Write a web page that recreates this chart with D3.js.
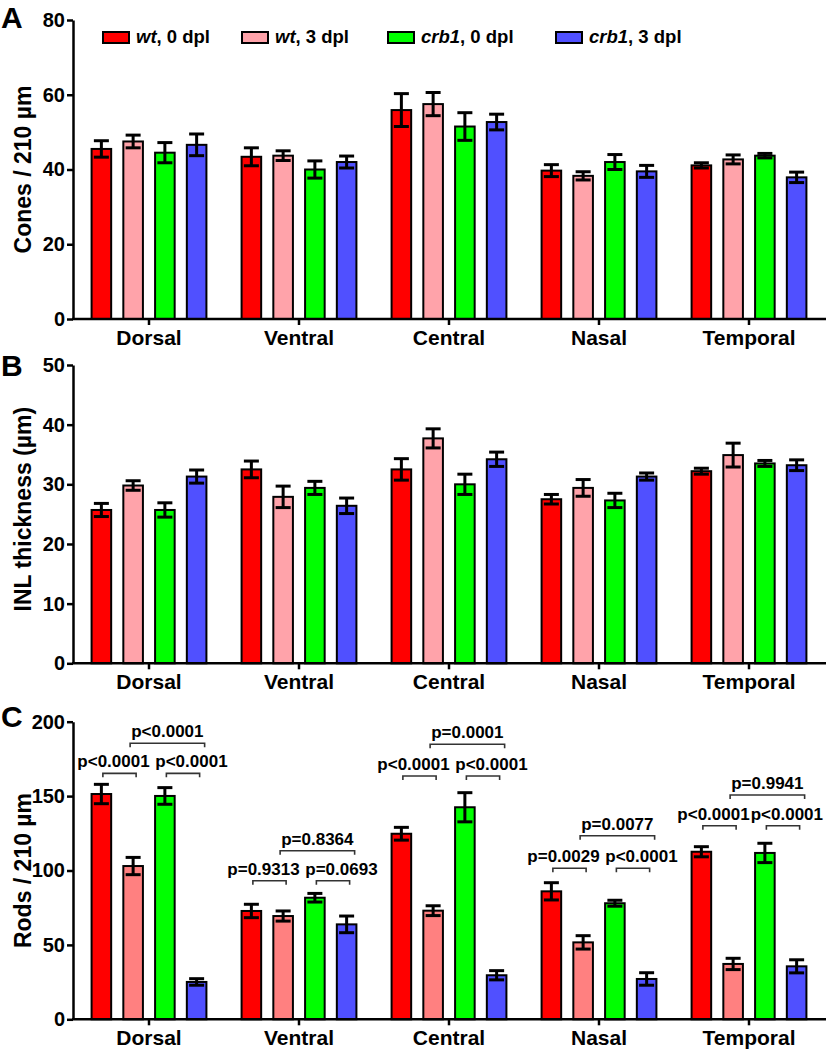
<!DOCTYPE html>
<html><head><meta charset="utf-8">
<script src="https://cdn.jsdelivr.net/npm/d3@7/dist/d3.min.js"></script>
<style>
body{margin:0;background:#fff;}
text{font-family:"Liberation Sans",Arial,Helvetica,sans-serif;font-weight:bold;}
</style></head><body>
<svg id="chart" width="828" height="1054"></svg>
<script>
// ---------- data ----------
const categories = ["Dorsal","Ventral","Central","Nasal","Temporal"];
const seriesGenotype = ["wt","wt","crb1","crb1"];
const seriesTime = [", 0 dpl", ", 3 dpl", ", 0 dpl", ", 3 dpl"];

const conesMean = [
  [45.5, 43.4, 55.9, 39.7, 41.1],
  [47.5, 43.7, 57.5, 38.3, 42.7],
  [44.5, 40.0, 51.5, 42.0, 43.7],
  [46.6, 42.0, 52.7, 39.5, 37.9]
];
const conesErr = [
  [2.2, 2.4, 4.4, 1.6, 0.7],
  [1.7, 1.3, 3.1, 1.1, 1.2],
  [2.7, 2.3, 3.7, 2.0, 0.6],
  [2.9, 1.6, 2.1, 1.6, 1.4]
];
const inlMean = [
  [25.7, 32.5, 32.5, 27.5, 32.2],
  [29.8, 27.9, 37.7, 29.4, 34.9],
  [25.7, 29.4, 30.0, 27.3, 33.5],
  [31.3, 26.4, 34.2, 31.3, 33.2]
];
const inlErr = [
  [1.1, 1.4, 1.8, 0.8, 0.5],
  [0.8, 1.8, 1.6, 1.4, 2.0],
  [1.2, 1.1, 1.7, 1.2, 0.5],
  [1.1, 1.3, 1.2, 0.6, 0.9]
];
const rodsMean = [
  [151.4, 72.8, 124.7, 86.0, 112.6],
  [103.0, 69.4, 73.0, 51.7, 37.2],
  [150.1, 81.7, 142.5, 78.0, 111.8],
  [25.1, 63.8, 29.6, 27.1, 35.6]
];
const rodsErr = [
  [6.5, 4.5, 4.3, 5.8, 3.4],
  [5.8, 3.4, 3.3, 4.5, 3.8],
  [5.6, 2.9, 9.8, 2.0, 6.5],
  [2.2, 5.6, 3.1, 4.2, 4.4]
];
const conesTicks = [0, 20, 40, 60, 80];
const inlTicks = [0, 10, 20, 30, 40, 50];
const rodsTicks = [0, 50, 100, 150, 200];

// p-value annotations (panel C): comparison between series indices, bracket level in data units
const pCategory = ["Dorsal","Dorsal","Dorsal","Ventral","Ventral","Ventral","Central","Central","Central","Nasal","Nasal","Nasal","Temporal","Temporal","Temporal"];
const pFrom  = [0,2,1, 0,2,1, 0,2,1, 0,2,1, 0,2,1];
const pTo    = [1,3,3, 1,3,3, 1,3,3, 1,3,3, 1,3,3];
const pLevel = [165.3,165.3,185.5, 93.1,93.1,113.3, 163.5,163.5,184.8, 101.5,101.5,123.4, 130.1,130.1,150.7];
const pLabel = ["p<0.0001","p<0.0001","p<0.0001","p=0.9313","p=0.0693","p=0.8364","p<0.0001","p<0.0001","p=0.0001","p=0.0029","p<0.0001","p=0.0077","p<0.0001","p<0.0001","p=0.9941"];

// ---------- layout / style ----------
const svg = d3.select("#chart");
const xLeft = 73, xRight = 826;
const x = d3.scaleBand().domain(categories).range([74, 824]).paddingInner(0).paddingOuter(0);
const xs = d3.scaleBand().domain(d3.range(4)).range([-63.5, 63.5]).paddingInner(0.32).paddingOuter(0.16);
const font = '"Liberation Sans",Arial,Helvetica,sans-serif';

const panels = [
  {letter:"A", letterY:28, top:20, bottom:319, max:80, ticks:conesTicks, mean:conesMean, err:conesErr,
   title:"Cones / 210 µm", titleDy:0, colors:["#ff0000","#ffa3aa","#00ff00","#5050ff"]},
  {letter:"B", letterY:376, top:365, bottom:663.3, max:50, ticks:inlTicks, mean:inlMean, err:inlErr,
   title:"INL thickness (µm)", titleDy:-5, colors:["#ff0000","#ffa3aa","#00ff00","#5050ff"]},
  {letter:"C", letterY:727, top:721.7, bottom:1019.3, max:200, ticks:rodsTicks, mean:rodsMean, err:rodsErr,
   title:"Rods / 210 µm", titleDy:0, colors:["#ff0000","#ff8080","#00ff00","#5050ff"]}
];

panels.forEach((p, pi) => {
  const y = d3.scaleLinear().domain([0, p.max]).range([p.bottom, p.top]);
  p.y = y;
  const g = svg.append("g");

  // bars
  for (let s = 0; s < 4; s++) {
    const bw = xs.bandwidth();
    categories.forEach((c, ci) => {
      const cx = x(c) + x.bandwidth()/2 + xs(s) + bw/2;
      const v = p.mean[s][ci], e = p.err[s][ci];
      g.append("rect")
        .attr("x", cx - bw/2 + 1).attr("width", bw - 2)
        .attr("y", y(v)).attr("height", y(0) - y(v))
        .attr("fill", p.colors[s]).attr("stroke", "#000").attr("stroke-width", 2);
      // error bar
      g.append("line").attr("x1", cx).attr("x2", cx).attr("y1", y(v+e)).attr("y2", y(v-e))
        .attr("stroke", "#000").attr("stroke-width", 3);
      [v+e, v-e].forEach(val => {
        g.append("line").attr("x1", cx-7.5).attr("x2", cx+7.5).attr("y1", y(val)).attr("y2", y(val))
          .attr("stroke", "#000").attr("stroke-width", 3);
      });
    });
  }

  // y axis
  const ya = g.append("g").attr("transform", `translate(${xLeft},0)`)
    .call(d3.axisLeft(y).tickValues(p.ticks).tickSize(6).tickSizeOuter(0).tickPadding(2));
  ya.select(".domain").attr("stroke", "#000").attr("stroke-width", 2.5);
  ya.selectAll(".tick line").attr("stroke", "#000").attr("stroke-width", 2.5);
  ya.selectAll(".tick text").attr("font-family", font).attr("font-weight", "bold")
    .attr("font-size", 20).attr("fill", "#000");

  // x axis
  g.append("line").attr("x1", xLeft - 1).attr("x2", xRight).attr("y1", p.bottom).attr("y2", p.bottom)
    .attr("stroke", "#000").attr("stroke-width", 2.5);
  categories.forEach(c => {
    const cx = x(c) + x.bandwidth()/2;
    g.append("line").attr("x1", cx).attr("x2", cx).attr("y1", p.bottom).attr("y2", p.bottom + 6)
      .attr("stroke", "#000").attr("stroke-width", 2.5);
    g.append("text").attr("x", cx).attr("y", p.bottom + 26).attr("text-anchor", "middle")
      .attr("font-size", 21).text(c);
  });

  // y title
  g.append("text").attr("transform", `translate(31,${(p.top + p.bottom)/2 + p.titleDy}) rotate(-90)`)
    .attr("text-anchor", "middle").attr("font-size", 23).text(p.title);

  // panel letter
  g.append("text").attr("x", 1).attr("y", p.letterY).attr("font-size", 30).text(p.letter);
});

// legend (panel A)
const legendX = [102, 241, 387, 555];
const lg = svg.append("g");
for (let s = 0; s < 4; s++) {
  lg.append("rect").attr("x", legendX[s] + 1).attr("y", 32).attr("width", 26).attr("height", 11)
    .attr("fill", panels[0].colors[s]).attr("stroke", "#000").attr("stroke-width", 2);
  const t = lg.append("text").attr("x", legendX[s] + 34).attr("y", 43).attr("font-size", 18.5);
  t.append("tspan").attr("font-style", "italic").text(seriesGenotype[s]);
  t.append("tspan").text(seriesTime[s]);
}

// p-value brackets (panel C)
const pc = panels[2];
pLabel.forEach((lab, i) => {
  const base = x(pCategory[i]) + x.bandwidth()/2;
  const c0 = base + xs(pFrom[i]) + xs.bandwidth()/2;
  const c1 = base + xs(pTo[i]) + xs.bandwidth()/2;
  const top = (pFrom[i] === 1 && pTo[i] === 3);
  const left = (pFrom[i] === 0);
  const x0 = top ? c0 - 3 : c0 + 1.5;
  const x1 = top ? c1 + 8 : c1 + 3;
  const yy = pc.y(pLevel[i]);
  svg.append("path")
    .attr("d", `M${x0},${yy+4}V${yy}H${x1}V${yy+4}`)
    .attr("fill", "none").attr("stroke", "#333").attr("stroke-width", 1.6);
  const t = svg.append("text").attr("y", yy - 6).attr("font-size", 17).text(lab);
  if (top) {
    t.attr("x", (x0 + x1)/2).attr("text-anchor", "middle");
  } else if (left) {
    t.attr("x", (x0 + x1)/2 - 6).attr("text-anchor", "middle");
  } else {
    t.attr("x", Math.min(c1 + 31, 823)).attr("text-anchor", "end");
  }
});
</script>
</body></html>
